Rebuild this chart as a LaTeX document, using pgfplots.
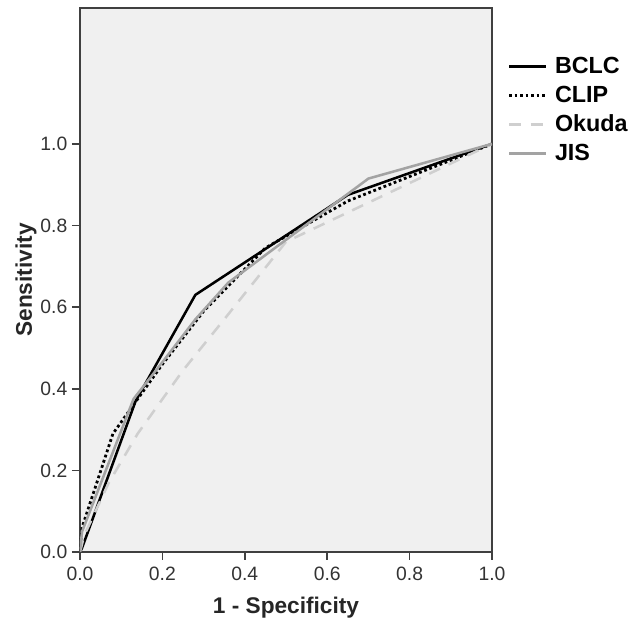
\documentclass[border=0pt]{standalone}
\usepackage{pgfplots}
\pgfplotsset{compat=1.18}
\usepackage{fontspec}
\setmainfont{Liberation Sans}
\definecolor{bgc}{HTML}{F0F0F0}
\definecolor{spine}{HTML}{404040}
\definecolor{okudac}{HTML}{CFCFCF}
\definecolor{jisc}{HTML}{A3A3A3}
\begin{document}
\begin{tikzpicture}
\begin{axis}[
  scale only axis,
  width=309pt, height=408pt,
  xmin=0, xmax=1, ymin=0, ymax=1.333,
  xtick={0,0.2,...,1.0}, ytick={0,0.2,...,1.0},
  xticklabel style={yshift=-1.5pt, /pgf/number format/.cd, fixed, fixed zerofill, precision=1},
  yticklabel style={/pgf/number format/.cd, fixed, fixed zerofill, precision=1},
  /pgf/number format/assume math mode=true,
  ticklabel style={font=\fontsize{14.5}{16}\selectfont, text=black!80},
  tick align=outside, xtick pos=bottom, ytick pos=left,
  major tick length=6pt,
  every tick/.style={spine, line width=1.3pt},
  axis line style={spine, line width=1.3pt},
  axis background/.style={fill=bgc},
  xlabel={\textbf{1 - Specificity}}, ylabel={\textbf{Sensitivity}},
  label style={font=\fontsize{17}{19}\selectfont, text=black!85},
  xlabel style={yshift=-6pt},
  ylabel style={yshift=-4pt},
  legend style={at={(1.028,0.92)}, anchor=north west, draw=none, fill=none,
    font=\bfseries\fontsize{17.5}{20}\selectfont, row sep=4pt, column sep=4pt},
  legend cell align=left,
  legend image post style={xscale=1.6},
]
% BCLC
\addplot[black, line width=1.9pt] coordinates {
 (0,0) (0.005,0.01) (0.135,0.37) (0.28,0.63) (0.65,0.875) (1,1)};
% CLIP
\addplot[black, line width=2.1pt, dotted] coordinates {
 (0,0) (0.005,0.06) (0.08,0.29) (0.2,0.46) (0.3,0.59) (0.45,0.745) (0.65,0.86) (1,1)};
% Okuda
\addplot[okudac, line width=1.9pt, dash pattern=on 9pt off 7pt] coordinates {
 (0,0) (0.01,0.04) (0.07,0.17) (0.14,0.29) (0.25,0.445) (0.35,0.57) (0.5,0.76) (1,1)};
% JIS
\addplot[jisc, line width=1.9pt] coordinates {
 (0,0) (0.005,0.05) (0.13,0.375) (0.2,0.465) (0.28,0.57) (0.36,0.66) (0.7,0.915) (1,1)};
\legend{BCLC,CLIP,Okuda,JIS}
\end{axis}
\path ([yshift=6pt]current axis.north);
\path (current axis.south west) ++(-60pt,-61pt);
\path (current axis.south east) ++(108pt,0);
\end{tikzpicture}
\end{document}
